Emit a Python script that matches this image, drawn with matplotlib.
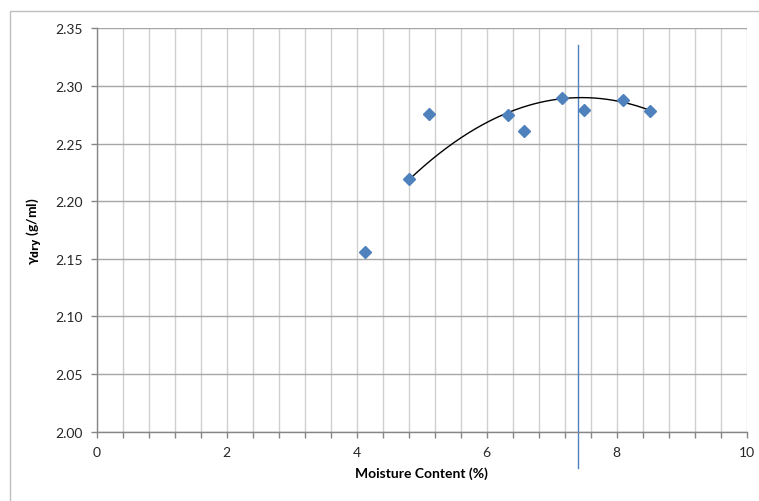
import numpy as np
import matplotlib
matplotlib.use("Agg")
import matplotlib.pyplot as plt
from matplotlib.ticker import MultipleLocator
from matplotlib.patches import Rectangle

plt.rcParams['font.family'] = ['Lato', 'DejaVu Sans']

# Data
moisture = [4.13, 4.81, 5.12, 6.33, 6.57, 7.16, 7.50, 8.09, 8.52]
gamma_dry = [2.156, 2.219, 2.2755, 2.275, 2.2605, 2.2895, 2.279, 2.288, 2.278]
trend_x = [4.81, 6.33, 7.41, 8.52]
trend_y = [2.219, 2.2765, 2.2903, 2.2785]
optimum_moisture = 7.41
opt_line_y = [1.9685, 2.3357]

x_ticks = [0, 2, 4, 6, 8, 10]
y_ticks = [2.00, 2.05, 2.10, 2.15, 2.20, 2.25, 2.30, 2.35]

fig = plt.figure(figsize=(7.59, 5.02), dpi=100)
fig.patch.set_facecolor('white')
fig.add_artist(Rectangle((10 / 759, -0.02), 1.2, (1 - 12 / 502) + 0.02,
                         transform=fig.transFigure, fill=False,
                         edgecolor='#BFBFBF', linewidth=1.0))

ax = fig.add_axes([96.7 / 759, 1 - 432.7 / 502, 650 / 759, (432.7 - 29.3) / 502])
ax.set_xlim(0, 10)
ax.set_ylim(2.0, 2.35)

ax.xaxis.set_minor_locator(MultipleLocator(0.4))
ax.set_xticks(x_ticks)
ax.set_yticks(y_ticks)
ax.set_xticklabels([str(v) for v in x_ticks])
ax.set_yticklabels(['%.2f' % v for v in y_ticks])

ax.grid(which='major', axis='y', color='#A6A6A6', linewidth=1.0, zorder=0)
ax.grid(which='both', axis='x', color='#D0D0D0', linewidth=1.0, zorder=0)
ax.set_axisbelow(True)

for s in ['top', 'right']:
    ax.spines[s].set_visible(False)
for s in ['left', 'bottom']:
    ax.spines[s].set_color('#868686')
    ax.spines[s].set_linewidth(1.0)

ax.tick_params(which='both', direction='out', color='#868686', length=4, width=1.0,
               labelsize=10, labelcolor='#262626', pad=6)

# trendline (2nd order polynomial through points)
coef = np.polyfit(trend_x, trend_y, 2)
xs = np.linspace(min(trend_x), max(trend_x), 200)
ax.plot(xs, np.polyval(coef, xs), color='black', linewidth=1.0, zorder=3)

ax.plot(moisture, gamma_dry, linestyle='none', marker='D', markersize=6.5,
        color='#4F81BD', markeredgecolor='#4F81BD', zorder=4)

ax.plot([optimum_moisture, optimum_moisture], opt_line_y, color='#4F81BD',
        linewidth=1.0, clip_on=False, zorder=2)

ax.set_xlabel('Moisture Content (%)', fontsize=10, fontweight='bold', labelpad=6)
ax.set_ylabel('γ$_{\\mathbf{dry}}$ (g/ml)', fontsize=10, fontweight='bold', labelpad=8)

fig.savefig('out.png', dpi=100, facecolor='white')
